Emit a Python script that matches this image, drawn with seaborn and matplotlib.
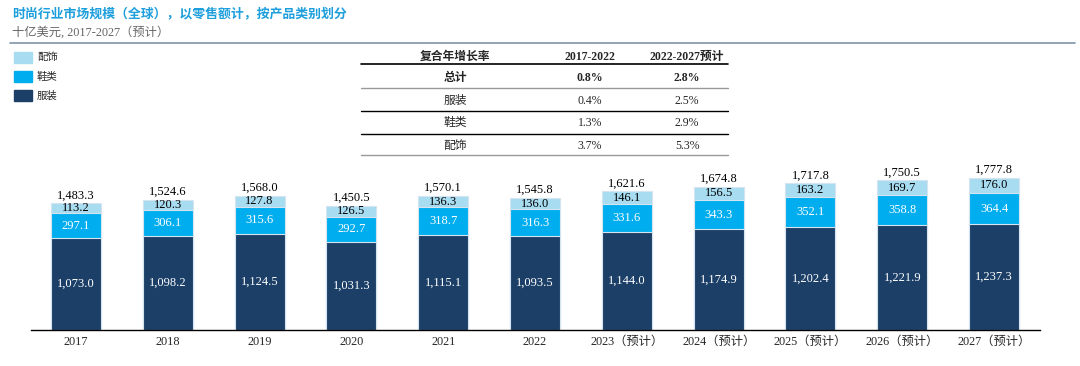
import matplotlib
matplotlib.use("Agg")
import matplotlib.pyplot as plt
import seaborn as sns
import pandas as pd

# data
years = ["2017", "2018", "2019", "2020", "2021", "2022",
         "2023（预计）", "2024（预计）", "2025（预计）", "2026（预计）", "2027（预计）"]
apparel = [1073.0, 1098.2, 1124.5, 1031.3, 1115.1, 1093.5, 1144.0, 1174.9, 1202.4, 1221.9, 1237.3]
footwear = [297.1, 306.1, 315.6, 292.7, 318.7, 316.3, 331.6, 343.3, 352.1, 358.8, 364.4]
accessories = [113.2, 120.3, 127.8, 126.5, 136.3, 136.0, 146.1, 156.5, 163.2, 169.7, 176.0]
totals = [1483.3, 1524.6, 1568.0, 1450.5, 1570.1, 1545.8, 1621.6, 1674.8, 1717.8, 1750.5, 1777.8]

series_names = ["配饰", "鞋类", "服装"]
table_header = ["复合年增长率", "2017-2022", "2022-2027预计"]
table_rows = [["总计", "0.8%", "2.8%"],
              ["服装", "0.4%", "2.5%"],
              ["鞋类", "1.3%", "2.9%"],
              ["配饰", "3.7%", "5.3%"]]

C_DARK = "#1B3F67"
C_MID = "#00ADEE"
C_LIGHT = "#A7DCF1"
FONT = ["Liberation Serif", "Noto Sans CJK SC"]

df = pd.DataFrame({"year": years, "apparel": apparel, "footwear": footwear,
                   "accessories": accessories, "total": totals})
df["top"] = df["apparel"] + df["footwear"] + df["accessories"]
df["mid"] = df["apparel"] + df["footwear"]

sns.set_theme(style="white")
plt.rcParams["font.family"] = FONT

fig = plt.figure(figsize=(10.8, 3.66), dpi=100)
ax = fig.add_axes([31 / 1080, 36 / 366, (1040 - 31) / 1080, 290 / 366])

bw = 0.545
edge = dict(edgecolor="#D6E4EF", linewidth=0.8)
sns.barplot(data=df, x="year", y="top", color=C_LIGHT, width=bw, ax=ax, saturation=1, **edge)
sns.barplot(data=df, x="year", y="mid", color=C_MID, width=bw, ax=ax, saturation=1, **edge)
sns.barplot(data=df, x="year", y="apparel", color=C_DARK, width=bw, ax=ax, saturation=1, **edge)

for i in range(len(years)):
    a, f, c, t = apparel[i], footwear[i], accessories[i], totals[i]
    ax.text(i, a / 2, f"{a:,.1f}", ha="center", va="center", color="white", fontsize=9)
    ax.text(i, a + f / 2, f"{f:,.1f}", ha="center", va="center", color="white", fontsize=9)
    ax.text(i, a + f + c / 2, f"{c:,.1f}", ha="center", va="center", color="black", fontsize=9)
    ax.text(i, a + f + c + 20, f"{t:,.1f}", ha="center", va="bottom", color="black", fontsize=9)

ax.set_xlim(-0.49, 10.5)
ax.set_ylim(0, 3390)
ax.set_xlabel("")
ax.set_ylabel("")
ax.set_yticks([])
for s in ["top", "right", "left"]:
    ax.spines[s].set_visible(False)
ax.spines["bottom"].set_color("black")
ax.spines["bottom"].set_linewidth(1.0)
ax.tick_params(axis="x", length=0, pad=4, labelsize=8.8)
for lab in ax.get_xticklabels():
    lab.set_family(FONT)

# title and subtitle
fig.text(12 / 1080, 1 - 14 / 366, "时尚行业市场规模（全球），以零售额计，按产品类别划分",
         color="#1E9FDD", fontsize=9.3, fontweight="bold", va="center", family=FONT)
fig.text(12 / 1080, 1 - 32 / 366, "十亿美元, 2017-2027（预计）",
         color="#666666", fontsize=8.8, va="center", family=FONT)
fig.add_artist(plt.Line2D([10 / 1080, 1075 / 1080], [1 - 43 / 366] * 2,
                          color="#7F93AA", lw=1.2, transform=fig.transFigure))

# legend
colors = [C_LIGHT, C_MID, C_DARK]
for k, (name, col) in enumerate(zip(series_names, colors)):
    y0 = 52 + k * 19
    fig.patches.append(plt.Rectangle((14 / 1080, 1 - (y0 + 11) / 366), 18 / 1080, 11 / 366,
                                     color=col, transform=fig.transFigure))
    fig.text(37 / 1080, 1 - (y0 + 5.5) / 366, name, fontsize=7.5, va="center", family=FONT)

# CAGR table
col_x = [455, 590, 687]
row_y = [57, 78, 101, 123, 146]
for j, txt in enumerate(table_header):
    fig.text(col_x[j] / 1080, 1 - row_y[0] / 366, txt, ha="center", va="center",
             fontsize=8.5, fontweight="bold", family=FONT)
for r, row in enumerate(table_rows):
    for j, txt in enumerate(row):
        fig.text(col_x[j] / 1080, 1 - row_y[r + 1] / 366, txt, ha="center", va="center",
                 fontsize=8.5, fontweight="bold" if r == 0 else "normal", family=FONT)
lines = [(64, "black", 1.2), (88, "#999999", 1.0), (111, "black", 1.0),
         (134, "black", 1.0), (155, "#999999", 1.0)]
for yy, col, lw in lines:
    fig.add_artist(plt.Line2D([361 / 1080, 728 / 1080], [1 - yy / 366] * 2,
                              color=col, lw=lw, transform=fig.transFigure))

fig.savefig("out.png", dpi=100)
